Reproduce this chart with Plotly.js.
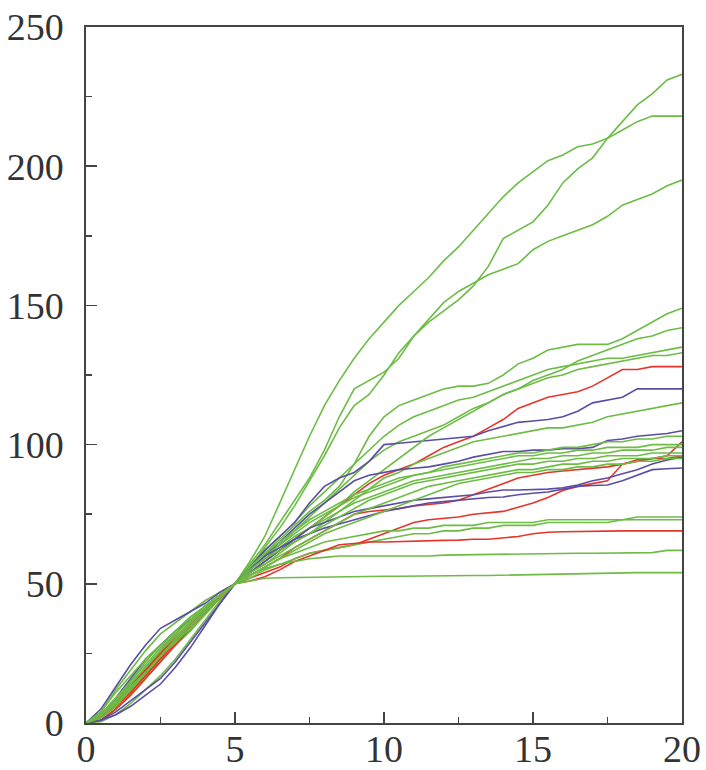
<!DOCTYPE html>
<html>
<head>
<meta charset="utf-8">
<script src="https://cdn.plot.ly/plotly-3.0.1.min.js"></script>
<style>
html,body{margin:0;padding:0;background:#fff;}
#chart{width:706px;height:770px;}
</style>
</head>
<body>
<div id="chart"></div>
<script>
// shared x positions
const xVals = [0,0.5,1,1.5,2,2.5,3,3.5,4,4.5,5,5.5,6,6.5,7,7.5,8,8.5,9,9.5,10,10.5,11,11.5,12,12.5,13,13.5,14,14.5,15,15.5,16,16.5,17,17.5,18,18.5,19,19.5,20];

const xTickVals = [0,5,10,15,20];
const xTickText = ["0","5","10","15","20"];
const yTickVals = [0,50,100,150,200,250];
const yTickText = ["0","50","100","150","200","250"];

// green series
const g1 = [0,3,8,14,20,26,31,36,41,46,50,58,67,79,91,103,114,123,131,138,144,150,155,160,166,171,177,183,189,194,198,202,204,207,208,210,213,216,218,218,218];
const g2 = [0,2,7,13,19,25,30,35,41,45,50,57,64,72,80,88,98,110,120,123,126,131,139,144,148,152,157,164,174,177,180,186,194,199,203,210,216,222,226,231,233];
const g3 = [0,1,5,10,16,22,28,34,39,45,50,56,63,70,78,87,96,106,114,118,125,133,139,145,151,155,158,161,163,165,170,173,175,177,179,182,186,188,190,193,195];
const g4 = [0,3,9,15,22,28,33,38,42,46,50,56,61,66,71,76,80,85,93,103,110,114,116,118,120,121,121,122,125,129,131,134,135,136,136,136,138,141,144,147,149];
const g5 = [0,2,6,12,18,24,29,34,40,45,50,55,60,64,69,74,79,84,89,94,98,101,103,105,107,110,113,115,118,120,123,125,127,130,132,134,136,138,139,141,142];
const g6 = [0,4,12,19,26,32,36,40,44,47,50,56,62,67,72,78,83,88,93,98,103,107,110,112,114,116,117,119,121,123,125,127,128,129,130,131,131,132,133,134,135];
const g7 = [0,1,5,11,17,23,28,33,39,45,50,54,58,62,66,70,74,78,83,87,91,95,99,103,106,109,112,115,118,120,122,124,125,127,128,129,130,131,132,132,133];
const g8 = [0,3,8,13,19,25,30,36,41,46,50,54,57,61,65,68,72,76,80,84,88,90,93,95,97,99,101,102,103,104,105,106,106,107,108,110,111,112,113,114,115];
const g9 = [0,2,7,12,18,24,30,35,40,45,50,55,60,64,68,72,75,78,81,83,85,87,89,90,92,93,94,95,96,97,97,98,99,99,100,101,101,102,102,103,103];
const g10 = [0,3,9,14,20,26,32,37,42,46,50,56,61,65,69,73,76,79,82,84,86,88,89,90,91,92,93,94,95,96,96,97,97,98,98,99,99,99,100,100,100];
const g11 = [0,0.5,3,7,12,17,23,30,37,44,50,55,59,63,67,70,73,76,79,81,83,85,87,88,89,90,91,92,93,94,95,95,96,96,97,97,98,98,98,99,99];
const g12 = [0,4,11,17,23,28,33,38,42,46,50,55,59,62,65,68,71,74,77,80,82,84,86,87,88,89,90,91,92,93,93,94,94,95,95,96,96,96,97,97,97];
const g13 = [0,2,6,11,17,23,29,34,40,45,50,54,57,60,63,66,69,72,75,77,79,81,83,85,86,87,88,89,90,91,91,92,93,93,94,94,95,95,95,96,96];
const g14 = [0,3,8,13,18,24,30,36,41,46,50,53,56,59,62,65,68,70,72,74,76,78,80,82,84,86,87,88,89,90,90,91,91,92,92,93,93,94,94,95,95];
const g15 = [0,2,7,12,18,24,29,35,40,45,50,53,56,59,61,63,65,66,67,68,69,69,70,70,71,71,71,72,72,72,72,73,73,73,73,73,73,74,74,74,74];
const g16 = [0,3,8,14,20,26,31,36,41,46,50,52,55,57,59,61,62,63,64,65,66,67,68,68,69,69,70,70,71,71,71,72,72,72,72,72,73,73,73,73,73];
const g17 = [0,2,6,12,18,24,29,35,40,45,50,53,55.5,57,58,59,59.5,60,60,60,60,60,60,60,60.3,60.4,60.5,60.6,60.7,60.8,60.8,60.8,60.9,61,61,61,61,61,61.2,62,62];
const g18 = [0,3,9,15,21,27,32,37,42,46,50,51,52,52.2,52.3,52.4,52.5,52.5,52.6,52.6,52.7,52.7,52.8,52.8,52.9,52.9,53,53,53.1,53.2,53.3,53.4,53.5,53.6,53.8,54,54,54,54,54,54];

// red series
const r1 = [0,2,7,13,19,25,30,35,40,45,50,54,58,62,66,70,74,78,82,86,89,91,93,96,99,101,103,106,109,113,115,117,118,119,121,124,127,127,128,128,128];
const r2 = [0,1,5,10,16,22,28,34,40,45,50,53,56,59,63,66,69,72,75,76,76.5,77,78,78.5,79,80,82,84,86,88,89,90,90.5,91,91.5,92,93,94,95,96,101];
const r3 = [0,3,8,14,19,25,31,36,41,46,50,52,54,56,59,61,62,63,64,66,68,70,72,73,73.5,74,75,75.5,76,77.5,79,81,83.5,85,86,87,93,94.5,95,95,96];
const r4 = [0,2,6,11,17,23,29,35,40,45,50,51,52.5,55,58,60,62,64,64.5,65,65,65.2,65.4,65.5,65.6,65.7,66,66,66.5,67,68,68.5,68.7,68.8,69,69,69,69,69,69,69];

// purple series
const p1 = [0,5,13,21,28,34,37,40,43,47,50,56,62,67,72,79,85,88,90,94,100,100.5,101,101.5,102,102.5,103,105,106.5,108,108.5,109,110,112,115,116,117,120,120,120,120];
const p2 = [0,3,9,16,23,28,33,37,42,46,50,55,60,65,70,75,79,83,87,89,90,91,91.5,92,93,94,95.5,96.5,97.5,97.5,98,98,98.5,98.5,99,101.5,102,103,103.5,104,105];
const p3 = [0,1,4,8,12,16,22,29,36,43,50,54,58,62,66,70,72,74,76,77,78,79,80,80.5,81,81.5,82,83,83.7,83.7,83.8,84,84.5,85.5,87,88,89.5,91,93,94.5,95.5];
const p4 = [0,1,3,6,10,14,20,27,35,43,50,55,60,63,66,68,70,71.5,73,74.5,76,77,78,79,79.5,80,80.5,81,81.2,82,82.5,83,84,85,85.3,85.5,87,89,91,91.3,91.6];

const GREEN = '#6cbc45';
const RED = '#e5342a';
const PURPLE = '#5b4ea2';

const seriesList = [
  [g1, GREEN],[g2, GREEN],[g3, GREEN],[g4, GREEN],[g5, GREEN],[g6, GREEN],
  [r1, RED],[p1, PURPLE],
  [g7, GREEN],[g8, GREEN],
  [p2, PURPLE],[r2, RED],
  [g9, GREEN],[g10, GREEN],[g11, GREEN],
  [r3, RED],[p3, PURPLE],[p4, PURPLE],
  [g12, GREEN],[g13, GREEN],[g14, GREEN],
  [g15, GREEN],[g16, GREEN],[r4, RED],[g17, GREEN],[g18, GREEN]
];

const traces = seriesList.map(([ys, col]) => ({
  x: xVals, y: ys, type: 'scatter', mode: 'lines',
  line: {color: col, width: 1.6}, hoverinfo: 'skip', showlegend: false
}));

const tickFont = {family: '"Liberation Serif", "Times New Roman", serif', size: 38, color: '#333'};

const layout = {
  width: 706, height: 770,
  margin: {l: 86, r: 24, t: 27, b: 47, pad: 0},
  paper_bgcolor: '#fff', plot_bgcolor: '#fff',
  showlegend: false,
  xaxis: {
    range: [0, 20], tickmode: 'array', tickvals: xTickVals, ticktext: xTickText,
    ticks: 'inside', ticklen: 11, tickwidth: 1.5, tickcolor: '#444',
    minor: {ticks: 'inside', ticklen: 6, tickwidth: 1.5, tickcolor: '#444', dtick: 2.5, tick0: 0},
    showline: true, linecolor: '#444', linewidth: 1.6, mirror: true,
    showgrid: false, zeroline: false, tickfont: tickFont, ticklabelstandoff: -8
  },
  yaxis: {
    range: [0, 250], tickmode: 'array', tickvals: yTickVals, ticktext: yTickText,
    ticks: 'inside', ticklen: 11, tickwidth: 1.5, tickcolor: '#444',
    minor: {ticks: 'inside', ticklen: 6, tickwidth: 1.5, tickcolor: '#444', dtick: 25, tick0: 0},
    showline: true, linecolor: '#444', linewidth: 1.6, mirror: true,
    showgrid: false, zeroline: false, tickfont: tickFont, ticklabelstandoff: 13
  }
};

Plotly.newPlot('chart', traces, layout, {displayModeBar: false, staticPlot: true});
</script>
</body>
</html>
